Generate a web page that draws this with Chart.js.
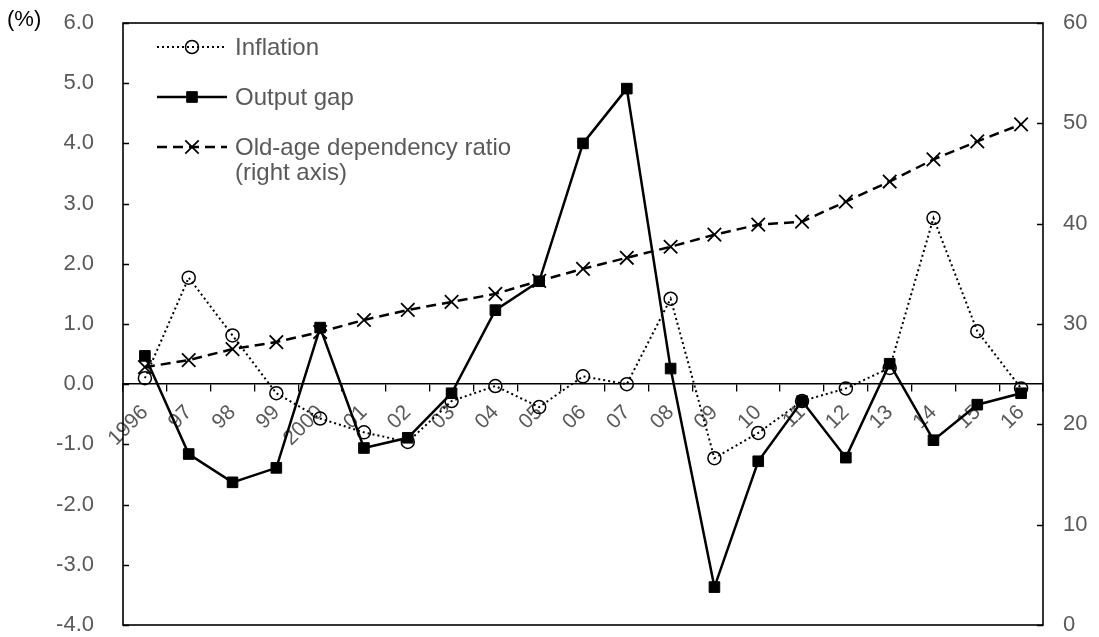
<!DOCTYPE html>
<html><head><meta charset="utf-8">
<script src="https://cdn.jsdelivr.net/npm/chart.js@4/dist/chart.umd.min.js"></script>
<style>html,body{margin:0;padding:0;background:#fff;}canvas{display:block;}</style>
</head><body>
<canvas id="c" width="1099" height="637"></canvas>
<script>
const years = ['1996','97','98','99','2000','01','02','03','04','05','06','07','08','09','10','11','12','13','14','15','16'];
const inflation = [0.10,1.77,0.81,-0.15,-0.57,-0.80,-0.96,-0.28,-0.03,-0.38,0.13,0.00,1.42,-1.23,-0.81,-0.28,-0.07,0.27,2.76,0.88,-0.07];
const outputGap = [0.47,-1.16,-1.63,-1.39,0.94,-1.06,-0.89,-0.15,1.23,1.71,4.00,4.91,0.26,-3.37,-1.28,-0.28,-1.22,0.34,-0.93,-0.34,-0.15];
const oldAgeRatio = [25.7,26.4,27.5,28.2,29.2,30.4,31.4,32.2,33.0,34.3,35.5,36.6,37.7,38.9,39.9,40.2,42.2,44.2,46.4,48.2,49.9];
const leftAxisRange = [-4, 6, 1];
const rightAxisRange = [0, 60, 10];
const unitLabel = '(%)';
const seriesNames = ['Inflation', 'Output gap', ['Old-age dependency ratio', '(right axis)']];

const FONT = "'Liberation Sans', Arial, Helvetica, sans-serif";
const GRAY = '#595959';

function drawMarker(ctx, style, r, x, y, bw) {
  ctx.save();
  ctx.setLineDash([]);
  ctx.lineWidth = bw;
  ctx.strokeStyle = '#000';
  ctx.fillStyle = '#000';
  ctx.beginPath();
  if (style === 'circle') {
    ctx.arc(x, y, r, 0, Math.PI * 2);
    ctx.stroke();
  } else if (style === 'rect') {
    const s = Math.SQRT1_2 * r;
    ctx.rect(x - s, y - s, 2 * s, 2 * s);
    ctx.fill();
    ctx.stroke();
  } else if (style === 'crossRot') {
    const s = Math.SQRT1_2 * r;
    ctx.moveTo(x - s, y - s); ctx.lineTo(x + s, y + s);
    ctx.moveTo(x - s, y + s); ctx.lineTo(x + s, y - s);
    ctx.stroke();
  }
  ctx.restore();
}

function noPad(s) {
  s.paddingTop = 0; s.paddingBottom = 0;
}

const framePlugin = {
  id: 'frame',
  afterDatasetsDraw(chart) {
    const ctx = chart.ctx, a = chart.chartArea;
    ctx.save();
    ctx.strokeStyle = '#000';
    ctx.lineWidth = 1.6;
    ctx.setLineDash([]);
    ctx.strokeRect(a.left, a.top, a.right - a.left, a.bottom - a.top);
    ctx.lineWidth = 1.3;
    ctx.beginPath();
    chart.scales.y.ticks.forEach(t => {
      const py = Math.round(chart.scales.y.getPixelForValue(t.value)) + 0.5;
      ctx.moveTo(a.left, py); ctx.lineTo(a.left + 6, py);
    });
    chart.scales.y1.ticks.forEach(t => {
      const py = Math.round(chart.scales.y1.getPixelForValue(t.value)) + 0.5;
      ctx.moveTo(a.right - 6, py); ctx.lineTo(a.right, py);
    });
    ctx.stroke();
    ctx.restore();
  },
  afterDraw(chart) {
    const ctx = chart.ctx, a = chart.chartArea;
    ctx.save();
    ctx.fillStyle = '#000';
    ctx.font = '22px ' + FONT;
    ctx.textAlign = 'left';
    ctx.textBaseline = 'middle';
    ctx.fillText(unitLabel, 7, 20);
    const x0 = a.left + 34, x1 = x0 + 70, tx = x1 + 8;
    let y = a.top + 24;
    chart.data.datasets.forEach(ds => {
      ctx.save();
      ctx.strokeStyle = '#000';
      ctx.lineWidth = ds.borderWidth;
      ctx.setLineDash(ds.borderDash || []);
      ctx.beginPath();
      ctx.moveTo(x0, y); ctx.lineTo(x1, y);
      ctx.stroke();
      ctx.restore();
      drawMarker(ctx, ds.pointStyle, ds.pointRadius, (x0 + x1) / 2, y, ds.pointBorderWidth);
      ctx.fillStyle = GRAY;
      ctx.font = '24px ' + FONT;
      ctx.textAlign = 'left';
      ctx.textBaseline = 'middle';
      const lines = Array.isArray(ds.label) ? ds.label : [ds.label];
      lines.forEach((l, i) => ctx.fillText(l, tx, y + 1 + i * 25));
      y += 50;
    });
    ctx.restore();
  }
};

new Chart(document.getElementById('c'), {
  type: 'line',
  data: {
    labels: years,
    datasets: [
      {
        label: seriesNames[0], data: inflation, yAxisID: 'y', order: 1,
        borderColor: '#000', borderWidth: 2, borderDash: [2, 3],
        pointStyle: 'circle', pointRadius: 6.5, pointBorderWidth: 1.5,
        pointBackgroundColor: 'rgba(0,0,0,0)', pointBorderColor: '#000', tension: 0, fill: false
      },
      {
        label: seriesNames[1], data: outputGap, yAxisID: 'y', order: 0,
        borderColor: '#000', borderWidth: 2.5, borderDash: [],
        pointStyle: 'rect', pointRadius: 7.5, pointBorderWidth: 1,
        pointBackgroundColor: '#000', pointBorderColor: '#000', tension: 0, fill: false
      },
      {
        label: seriesNames[2], data: oldAgeRatio, yAxisID: 'y1', order: 2,
        borderColor: '#000', borderWidth: 2.5, borderDash: [10, 6],
        pointStyle: 'crossRot', pointRadius: 9.5, pointBorderWidth: 1.8,
        pointBackgroundColor: '#000', pointBorderColor: '#000', tension: 0, fill: false
      }
    ]
  },
  options: {
    responsive: false,
    animation: false,
    devicePixelRatio: 1,
    events: [],
    layout: { padding: { top: 23, bottom: 12, left: 0, right: 0 } },
    plugins: { legend: { display: false }, tooltip: { enabled: false }, title: { display: false } },
    scales: {
      x: {
        type: 'category', offset: true, position: { y: 0 },
        grid: { offset: true, drawOnChartArea: false, drawTicks: true, tickLength: 7, color: '#000', lineWidth: 1.3 },
        border: { display: true, color: '#000', width: 1.6 },
        ticks: { color: GRAY, font: { family: FONT, size: 21 }, minRotation: 45, maxRotation: 45, autoSkip: false, padding: 9 },
        afterFit(s) { s.paddingLeft = 0; s.paddingRight = 0; }
      },
      y: {
        position: 'left', min: leftAxisRange[0], max: leftAxisRange[1],
        ticks: { stepSize: leftAxisRange[2], callback: v => Number(v).toFixed(1), color: GRAY, font: { family: FONT, size: 22 }, padding: 29 },
        grid: { display: false, drawTicks: false },
        border: { display: false },
        afterFit(s) { s.width = 123; noPad(s); }
      },
      y1: {
        position: 'right', min: rightAxisRange[0], max: rightAxisRange[1],
        ticks: { stepSize: rightAxisRange[2], color: GRAY, font: { family: FONT, size: 22 }, padding: 20 },
        grid: { display: false, drawTicks: false },
        border: { display: false },
        afterFit(s) { s.width = 56; noPad(s); }
      }
    }
  },
  plugins: [framePlugin]
});
</script>
</body></html>
